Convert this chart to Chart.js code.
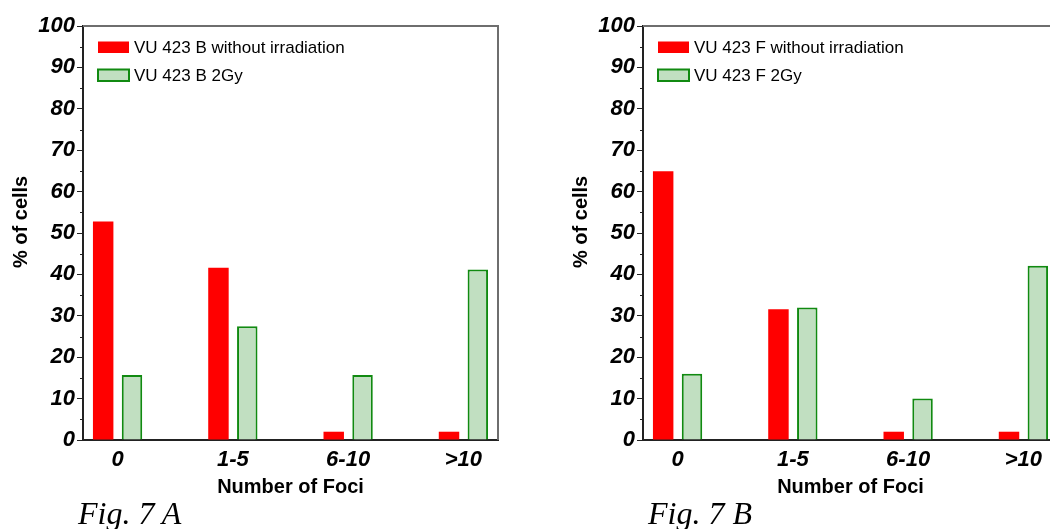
<!DOCTYPE html>
<html><head><meta charset="utf-8">
<script src="https://cdn.jsdelivr.net/npm/chart.js@4.4.1/dist/chart.umd.min.js"></script>
<style>
html,body{margin:0;padding:0;background:#fff;overflow:hidden;width:1050px;height:529px;}
.wrap{position:absolute;top:0;width:520px;height:510px;}
.fig{position:absolute;font-family:"Liberation Serif","Times New Roman",serif;font-style:italic;font-size:32px;line-height:32px;color:#000;white-space:nowrap;}
</style></head><body>
<div class="wrap" style="left:0"><canvas id="cA" width="520" height="510"></canvas></div>
<div class="wrap" style="left:560px"><canvas id="cB" width="520" height="510"></canvas></div>
<div class="fig" style="left:78px;top:497px">Fig. 7 A</div>
<div class="fig" style="left:648px;top:497px">Fig. 7 B</div>
<script>
// ---- data ----
const categories = ['0', '1-5', '6-10', '>10'];
const yTickValues = [0, 10, 20, 30, 40, 50, 60, 70, 80, 90, 100];
const seriesA_names = ['VU 423 B without irradiation', 'VU 423 B 2Gy'];
const seriesA_noIrr = [52.8, 41.6, 2.0, 2.0];
const seriesA_2Gy = [15.7, 27.5, 15.7, 41.2];
const seriesB_names = ['VU 423 F without irradiation', 'VU 423 F 2Gy'];
const seriesB_noIrr = [64.9, 31.6, 2.0, 2.0];
const seriesB_2Gy = [16.0, 32.0, 10.0, 42.1];
const xTitle = 'Number of Foci';
const yTitle = '% of cells';

const SANS = '"Liberation Sans", Arial, Helvetica, sans-serif';
const RED = '#ff0000';
const GREEN_FILL = '#c1dfc1';
const GREEN_LINE = '#118a11';

const framePlugin = {
  id: 'frame',
  beforeDatasetsDraw(chart) {
    const {ctx, chartArea: a} = chart;
    ctx.save();
    ctx.strokeStyle = '#6e6e6e';
    ctx.lineWidth = 2;
    ctx.beginPath();
    ctx.moveTo(a.left, a.top);
    ctx.lineTo(a.right, a.top);
    ctx.lineTo(a.right, a.bottom);
    ctx.stroke();
    // minor ticks on y axis
    const ys = chart.scales.y;
    ctx.strokeStyle = '#222';
    ctx.lineWidth = 1;
    ys.ticks.forEach(t => {
      if (t.value % 10 !== 0) {
        const py = Math.round(ys.getPixelForValue(t.value)) + 0.5;
        ctx.beginPath();
        ctx.moveTo(a.left - 3, py);
        ctx.lineTo(a.left, py);
        ctx.stroke();
      }
    });
    ctx.restore();
  }
};

const legendPlugin = {
  id: 'insideLegend',
  afterDraw(chart) {
    const {ctx, chartArea: a} = chart;
    ctx.save();
    ctx.font = '17px ' + SANS;
    ctx.textBaseline = 'middle';
    ctx.fillStyle = '#000';
    chart.data.datasets.forEach((ds, i) => {
      const bx = a.left + 15;
      const by = a.top + 15.5 + i * 28;
      ctx.fillStyle = ds.backgroundColor;
      ctx.fillRect(bx, by, 31, 11.5);
      if (ds.borderWidth) {
        ctx.strokeStyle = ds.borderColor;
        ctx.lineWidth = ds.borderWidth;
        ctx.strokeRect(bx, by, 31, 11.5);
      }
      ctx.fillStyle = '#000';
      ctx.fillText(ds.label, bx + 31 + 5, by + 6.5);
    });
    ctx.restore();
  }
};

function makeChart(id, names, noIrr, gy) {
  const toPts = arr => arr.map((v, i) => ({x: i, y: v}));
  return new Chart(document.getElementById(id), {
    type: 'bar',
    data: {
      datasets: [
        {label: names[0], data: toPts(noIrr), backgroundColor: RED, borderWidth: 0,
         categoryPercentage: 0.5, barPercentage: 0.71},
        {label: names[1], data: toPts(gy), backgroundColor: GREEN_FILL, borderColor: GREEN_LINE, borderWidth: 2,
         categoryPercentage: 0.5, barPercentage: 0.71}
      ]
    },
    options: {
      responsive: false,
      animation: false,
      devicePixelRatio: 1,
      layout: {padding: {left: 0, right: 22, top: 26, bottom: 0}},
      plugins: {legend: {display: false}, tooltip: {enabled: false}},
      scales: {
        x: {
          type: 'linear', min: -0.3, max: 3.3, offset: false,
          afterBuildTicks: s => { s.ticks = categories.map((c, i) => ({value: i})); },
          afterFit: s => { s.height = 70; },
          ticks: {
            callback: v => categories[v],
            color: '#000', padding: 7, maxRotation: 0, autoSkip: false,
            font: {family: SANS, size: 22, weight: 'bold', style: 'italic'}
          },
          grid: {drawOnChartArea: false, drawTicks: false, offset: false},
          border: {display: true, color: '#222', width: 2},
          title: {display: true, text: xTitle, color: '#000', padding: {top: 0, bottom: 11},
                  font: {family: SANS, size: 20, weight: 'bold'}}
        },
        y: {
          min: 0, max: 100,
          afterBuildTicks: s => {
            const t = [];
            yTickValues.forEach((v, i) => { t.push({value: v}); if (i < yTickValues.length - 1) t.push({value: v + 5}); });
            s.ticks = t;
          },
          afterFit: s => { s.width = 83; },
          ticks: {
            callback: v => (yTickValues.includes(v) ? String(v) : ''),
            color: '#000', padding: 2, autoSkip: false,
            font: {family: SANS, size: 22, weight: 'bold', style: 'italic'}
          },
          grid: {drawOnChartArea: false, drawTicks: true, tickLength: 6,
                 tickColor: c => (c.tick && c.tick.value % 10 === 0 ? '#222' : 'rgba(0,0,0,0)'), tickWidth: 1},
          border: {display: true, color: '#222', width: 2},
          title: {display: true, text: '    ' + yTitle, color: '#000', padding: {top: 9, bottom: 0},
                  font: {family: SANS, size: 20, weight: 'bold'}}
        }
      }
    },
    plugins: [framePlugin, legendPlugin]
  });
}

makeChart('cA', seriesA_names, seriesA_noIrr, seriesA_2Gy);
makeChart('cB', seriesB_names, seriesB_noIrr, seriesB_2Gy);
</script>
</body></html>
